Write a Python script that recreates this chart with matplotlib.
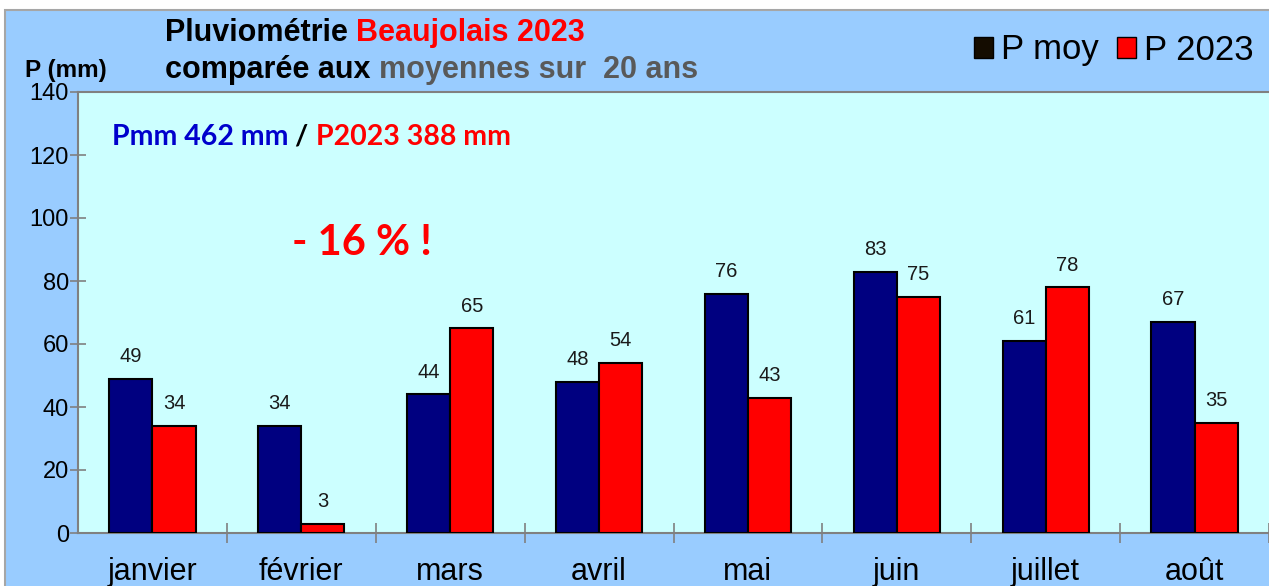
import matplotlib
matplotlib.use("Agg")
import matplotlib.pyplot as plt
from matplotlib.patches import Rectangle, Patch
import numpy as np

plt.rcParams.update({
    "font.family": ["Liberation Sans", "DejaVu Sans"],
    "text.parse_math": False,
})

mois = ["janvier", "février", "mars", "avril", "mai", "juin", "juillet", "août"]
p_moy = [49, 34, 44, 48, 76, 83, 61, 67]
p_2023 = [34, 3, 65, 54, 43, 75, 78, 35]

NAVY = "#000080"
RED = "#ff0000"
OUTER = "#99ccff"
INNER = "#ccffff"
GREY = "#808080"

W, H = 1269, 586
fig = plt.figure(figsize=(W / 100, H / 100), dpi=100)
fig.patch.set_facecolor("white")

# fond bleu du cadre
fig.patches.append(Rectangle((5 / W, -0.02), 1.0, 1 - 10 / H + 0.02,
                             transform=fig.transFigure, facecolor=OUTER,
                             edgecolor="#a6a6a6", linewidth=1.5, zorder=-1))

ax = fig.add_axes([78 / W, 53 / H, (W - 78) / W, 441 / H])
ax.set_zorder(1)
ax.set_facecolor(INNER)

x = np.arange(len(mois))
w = 0.29
b1 = ax.bar(x - w / 2, p_moy, w, color=NAVY, edgecolor="black", linewidth=1.5, zorder=3)
b2 = ax.bar(x + w / 2, p_2023, w, color=RED, edgecolor="black", linewidth=1.5, zorder=3)

for bars, vals in ((b1, p_moy), (b2, p_2023)):
    for b, v in zip(bars, vals):
        ax.annotate(f"{v}", (b.get_x() + b.get_width() / 2, v),
                    textcoords="offset points", xytext=(0, 9),
                    ha="center", va="bottom", fontsize=14.5, color="#1a1a1a")

ax.set_xlim(-0.5, -0.5 + (W - 78) / 150)
ax.set_ylim(0, 140)
ax.set_yticks(range(0, 141, 20))
ax.tick_params(axis="y", labelsize=17, length=11, width=1.2, color=GREY,
               direction="inout", pad=1)
ax.set_xticks(x)
ax.set_xticklabels(mois, fontsize=22)
ax.tick_params(axis="x", which="major", length=0, pad=17)
ax.set_xticks(x + 0.5, minor=True)
ax.tick_params(axis="x", which="minor", length=14, width=1.2, color=GREY,
               direction="inout")

for s in ("left", "bottom", "top"):
    ax.spines[s].set_color(GREY)
    ax.spines[s].set_linewidth(1.5)
ax.spines["right"].set_visible(False)

renderer = fig.canvas.get_renderer()


def chain(parts, x0, y0, **kw):
    # texte multicolore posé bout à bout
    xx = x0
    for txt, col in parts:
        t = fig.text(xx, y0, txt, color=col, zorder=5, **kw)
        bb = t.get_window_extent(renderer)
        xx = bb.x1 / W


chain([("Pmm 462 mm ", "#0000cc"), ("/ ", "black"), ("P2023 388 mm", RED)],
      112 / W, 1 - 137 / H,
      fontsize=20.5, fontweight="bold", family="Lato", va="center")

fig.text(292 / W, 1 - 243 / H, "- 16 % !", color=RED, fontsize=30,
         fontweight="bold", family="Lato", va="center", zorder=5)

# titre
chain([("Pluviométrie ", "black"), ("Beaujolais 2023", RED)],
      165 / W, 1 - 33 / H, fontsize=22, fontweight="bold", va="center")
chain([("comparée aux ", "black"), ("moyennes sur  20 ans", "#595959")],
      165 / W, 1 - 70 / H, fontsize=22, fontweight="bold", va="center")

fig.text(25 / W, 1 - 70 / H, "P (mm)", fontsize=17.5, fontweight="bold",
         va="center", color="black")

handles = [Patch(facecolor="#140c00", edgecolor="black", label="P moy"),
           Patch(facecolor=RED, edgecolor="black", label="P 2023")]
fig.legend(handles=handles, loc="center right",
           bbox_to_anchor=(1254 / W, 1 - 50 / H), ncol=2, frameon=False,
           fontsize=25, handlelength=0.55, handleheight=0.55,
           handletextpad=0.25, columnspacing=0.5, borderpad=0,
           borderaxespad=0)

fig.savefig("out.png", dpi=100, facecolor="white")
